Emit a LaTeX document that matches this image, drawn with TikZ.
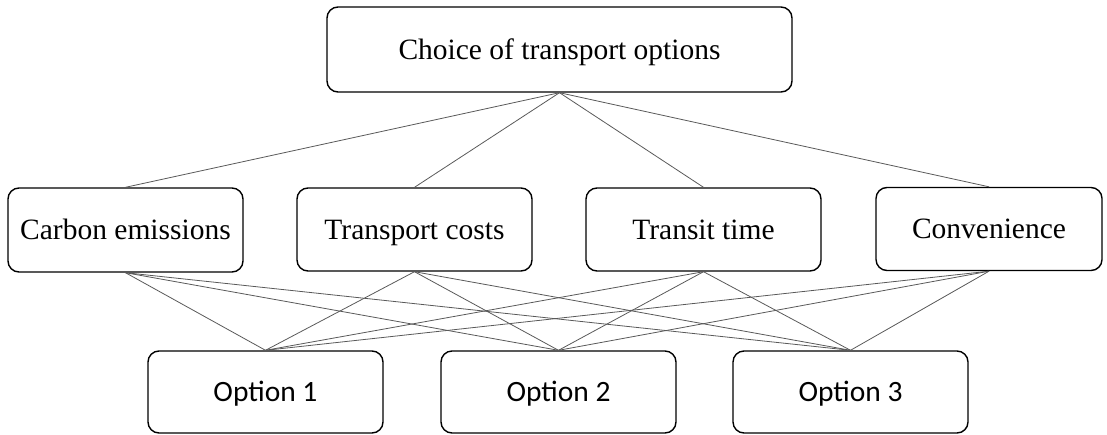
\documentclass[tikz,border=0pt]{standalone}
\usepackage{fontspec}
\setmainfont{Liberation Serif}
\newfontfamily\optfont{Carlito}
\begin{document}
\begin{tikzpicture}[x=1pt,y=-1pt,
  box/.style={draw=black, line width=1.4pt, rounded corners=11pt, inner sep=0pt,
    minimum height=83pt, text height=19.5pt, text depth=0pt,
    font=\fontsize{29.5}{34}\selectfont},
  optbox/.style={box, minimum width=235pt, minimum height=82pt, text height=19pt,
    font=\optfont\fontsize{29.5}{34}\selectfont},
  link/.style={draw=black!65, line width=0.8pt}]
  \useasboundingbox (0,0) rectangle (1107,434);
  % goal
  \node[box, minimum width=465pt, minimum height=85pt] (goal) at (559.5,49.5) {Choice of transport options};
  % criteria
  \node[box, minimum width=235pt, minimum height=84pt] (c1) at (125.5,230) {Carbon emissions};
  \node[box, minimum width=235pt] (c2) at (414.5,229.5) {Transport costs};
  \node[box, minimum width=235pt] (c3) at (703.5,229.5) {Transit time};
  \node[box, minimum width=226pt] (c4) at (989,229) {Convenience};
  % alternatives
  \node[optbox] (o1) at (265.5,392) {Option 1};
  \node[optbox] (o2) at (558.5,392) {Option 2};
  \node[optbox] (o3) at (850.5,392) {Option 3};
  % connectors
  \foreach \c in {c1,c2,c3,c4} {
    \draw[link] (goal.south) -- (\c.north);
    \foreach \o in {o1,o2,o3} {
      \draw[link] (\c.south) -- (\o.north);
    }
  }
\end{tikzpicture}
\end{document}
